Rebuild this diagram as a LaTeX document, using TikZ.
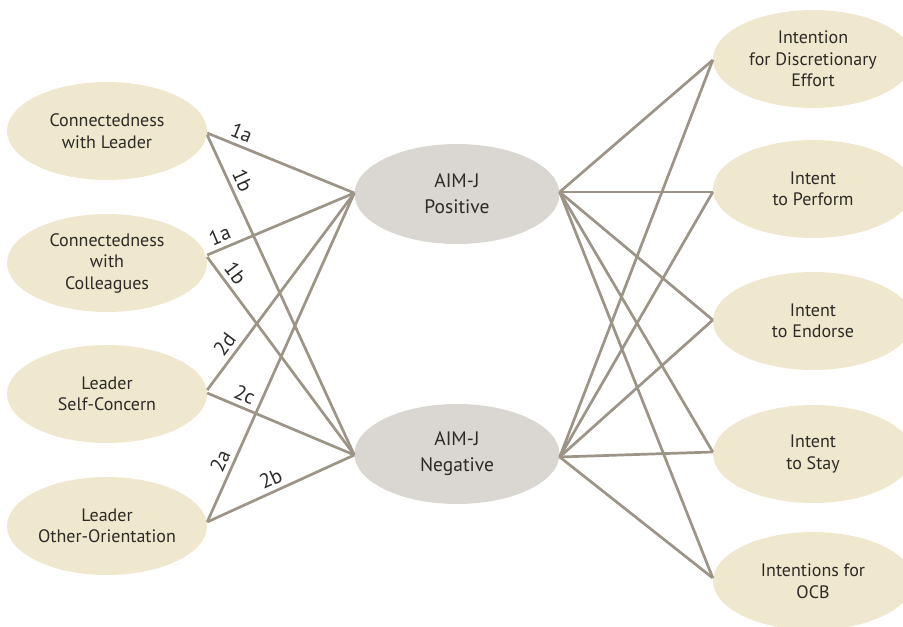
\documentclass[tikz,border=0pt]{standalone}
\usepackage{fontspec}
\setmainfont{PT Sans}
\usetikzlibrary{shapes.geometric}
\definecolor{beige}{RGB}{240,232,206}
\definecolor{grayfill}{RGB}{218,215,210}
\definecolor{linec}{RGB}{155,148,135}
\definecolor{txt}{RGB}{45,42,40}
\tikzset{
  outer/.style={ellipse, fill=beige, draw=none, minimum width=200pt, minimum height=98pt, inner sep=0pt, align=center, text=txt, font=\fontsize{18}{21.5}\selectfont},
  mid/.style={ellipse, fill=grayfill, draw=none, minimum width=205pt, minimum height=100pt, inner sep=0pt, align=center, text=txt, font=\fontsize{19.5}{26}\selectfont},
  conn/.style={draw=linec, line width=2.7pt},
  lab/.style={sloped, above, text=txt, inner sep=4.5pt, font=\fontsize{20.5}{21}\selectfont}
}
\begin{document}
\begin{tikzpicture}[x=1pt,y=-1pt]
\useasboundingbox (0,0) rectangle (903,627);
\node[outer] (l1) at (107,131) {Connectedness\\with Leader};
\node[outer] (l2) at (107,263) {Connectedness\\with\\Colleagues};
\node[outer] (l3) at (107,394) {Leader\\Self-Concern};
\node[outer] (l4) at (107,526) {Leader\\Other-Orientation};
\node[mid] (p) at (457,194) {AIM-J\\Positive};
\node[mid] (n) at (457,454) {AIM-J\\Negative};
\node[outer] (r1) at (813,59) {Intention\\for Discretionary\\Effort};
\node[outer] (r2) at (813,189) {Intent\\to Perform};
\node[outer] (r3) at (813,321) {Intent\\to Endorse};
\node[outer] (r4) at (813,454) {Intent\\to Stay};
\node[outer] (r5) at (813,581) {Intentions for\\OCB};
\coordinate (pw) at ([yshift=1pt]p.west);
\coordinate (nw) at ([yshift=-1pt]n.west);
\coordinate (pe) at ([yshift=2pt]p.east);
\coordinate (ne) at ([yshift=-3pt]n.east);
\draw[conn] ([yshift=-2pt]l1.east) -- node[lab,pos=0.2] {1a} (pw);
\draw[conn] ([yshift=-4pt]l1.east) -- node[lab,pos=0.16] {1b} (nw);
\draw[conn] ([yshift=8pt]l2.east) -- node[lab,pos=0.12] {1a} (pw);
\draw[conn] ([yshift=6pt]l2.east) -- node[lab,pos=0.12] {1b} (nw);
\draw[conn] ([yshift=4pt]l3.east) -- node[lab,pos=0.19] {2d} (pw);
\draw[conn] ([yshift=1pt]l3.east) -- node[lab,pos=0.22] {2c} (nw);
\draw[conn] ([yshift=4pt]l4.east) -- node[lab,pos=0.17] {2a} (pw);
\draw[conn] ([yshift=4pt]l4.east) -- node[lab,pos=0.47] {2b} (nw);
\coordinate (w1) at ([yshift=-1pt]r1.west);
\coordinate (w2) at ([yshift=-3pt]r2.west);
\coordinate (w3) at ([yshift=1pt]r3.west);
\coordinate (w4) at ([yshift=2pt]r4.west);
\coordinate (w5) at ([yshift=3pt]r5.west);
\foreach \w in {w1,w2,w3,w4,w5}{
  \draw[conn] (pe) -- (\w);
  \draw[conn] (ne) -- (\w);
}
\end{tikzpicture}
\end{document}
